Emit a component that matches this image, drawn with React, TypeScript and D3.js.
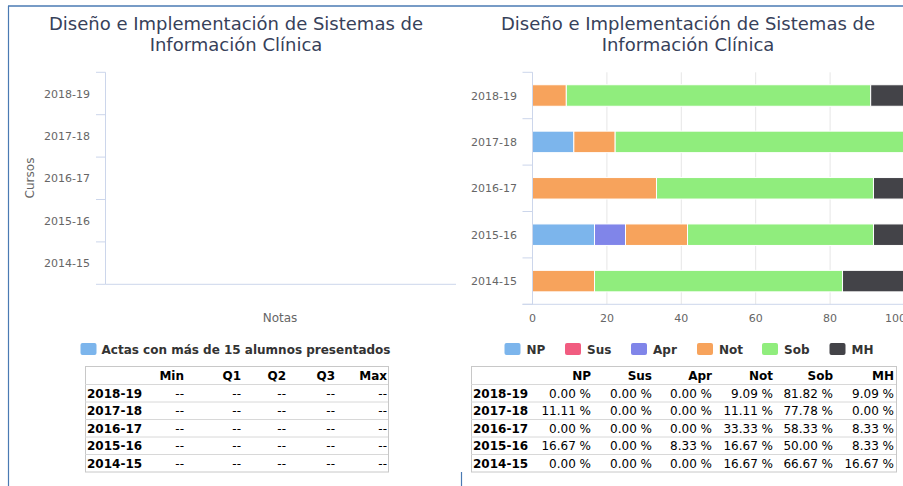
import React from "react";
import * as d3 from "d3";

const categories = ["2018-19", "2017-18", "2016-17", "2015-16", "2014-15"];
const seriesNames = ["NP", "Sus", "Apr", "Not", "Sob", "MH"];
const seriesColors = ["#7cb5ec", "#f15c80", "#8085e9", "#f7a35c", "#90ed7d", "#434348"];
const npValues = [0, 11.11, 0, 16.67, 0];
const susValues = [0, 0, 0, 0, 0];
const aprValues = [0, 0, 0, 8.33, 0];
const notValues = [9.09, 11.11, 33.33, 16.67, 16.67];
const sobValues = [81.82, 77.78, 58.33, 50.0, 66.67];
const mhValues = [9.09, 0, 8.33, 8.33, 16.67];
const seriesValues = [npValues, susValues, aprValues, notValues, sobValues, mhValues];
const xTicks = [0, 20, 40, 60, 80, 100];
const statHeaders = ["Min", "Q1", "Q2", "Q3", "Max"];
const statValues = categories.map(() => ["--", "--", "--", "--", "--"]);
const titleLines = ["Diseño e Implementación de Sistemas de", "Información Clínica"];
const leftLegend = "Actas con más de 15 alumnos presentados";

const FONT = "DejaVu Sans, sans-serif";
const AXIS = "#ccd6eb";
const LABEL = "#666666";
const TITLE = "#37415a";
const BORDER = "#4a7ab3";

function Title({ cx }: { cx: number }) {
  return (
    <g>
      {titleLines.map((t, i) => (
        <text key={i} x={cx} y={30 + i * 21} textAnchor="middle" fontSize={18} fill={TITLE} fontFamily={FONT}>
          {t}
        </text>
      ))}
    </g>
  );
}

function Table({ x0, x1, headers, colRight, rows }: { x0: number; x1: number; headers: string[]; colRight: number[]; rows: string[][] }) {
  const top = 366;
  const headH = 18;
  const rowH = 17.5;
  const bottom = top + headH + rowH * rows.length;
  return (
    <g fontFamily={FONT} fontSize={12}>
      <rect x={x0 + 0.5} y={top + 0.5} width={x1 - x0} height={bottom - top} fill="#fff" stroke="#c8c8c8" />
      {rows.map((_, i) => (
        <line key={i} x1={x0} x2={x1} y1={top + headH + i * rowH + 0.5} y2={top + headH + i * rowH + 0.5} stroke="#d8d8d8" />
      ))}
      {headers.map((h, j) => (
        <text key={h} x={colRight[j]} y={top + 14} textAnchor="end" fontWeight="bold" fill="#000">
          {h}
        </text>
      ))}
      {rows.map((r, i) => (
        <g key={i}>
          <text x={x0 + 2} y={top + headH + i * rowH + 13.5} fontWeight="bold" fill="#000">
            {categories[i]}
          </text>
          {r.map((v, j) => (
            <text key={j} x={colRight[j]} y={top + headH + i * rowH + 13.5} textAnchor="end" fill="#000">
              {v}
            </text>
          ))}
        </g>
      ))}
    </g>
  );
}

export default function App() {
  // Left chart
  const lTop = 72.3, lBottom = 284.3, lLeft = 105.5, lRight = 456;
  const yL = d3.scaleBand<string>().domain(categories).range([lTop, lBottom]);
  // Right chart
  const rTop = 72.3, rBottom = 304.3, rLeft = 532.5, rRight = 904.5;
  const yR = d3.scaleBand<string>().domain(categories).range([rTop, rBottom]);
  const xR = d3.scaleLinear().domain([0, 100]).range([rLeft, rRight]);
  const barH = 21.5;
  const chartRightEdge = 906;

  const stackData = categories.map((c, i) => {
    const o: any = { cat: c };
    seriesNames.forEach((s, k) => (o[s] = seriesValues[k][i]));
    return o;
  });
  const stacked = d3.stack<any>().keys(seriesNames)(stackData);

  const legendX = [504.5, 565, 631, 697, 762, 829.5];

  const pctRows = categories.map((_, i) => seriesValues.map((sv) => sv[i].toFixed(2) + " %"));

  return (
    <svg width={903} height={486} style={{ position: "absolute", left: 0, top: 0, background: "#fff" }} fontFamily={FONT}>
      {/* panel borders */}
      <line x1={8} x2={903} y1={6} y2={6} stroke={BORDER} strokeWidth={1.5} />
      <line x1={8.5} x2={8.5} y1={6} y2={486} stroke={BORDER} strokeWidth={1.2} />
      <line x1={461.5} x2={461.5} y1={472} y2={486} stroke={BORDER} strokeWidth={1.2} />

      {/* LEFT CHART */}
      <Title cx={236} />
      <line x1={lLeft} x2={lLeft} y1={lTop} y2={lBottom} stroke={AXIS} />
      <line x1={lLeft} x2={lRight} y1={lBottom} y2={lBottom} stroke={AXIS} />
      {[...categories.map((c) => yL(c)!), lBottom].map((y, i) => (
        <line key={i} x1={96} x2={lLeft} y1={y} y2={y} stroke={AXIS} />
      ))}
      {categories.map((c) => (
        <text key={c} x={90} y={yL(c)! + yL.bandwidth() / 2 + 4} textAnchor="end" fontSize={11} fill={LABEL}>
          {c}
        </text>
      ))}
      <text transform={`translate(34,178) rotate(-90)`} textAnchor="middle" fontSize={12} fill={LABEL}>
        Cursos
      </text>
      <text x={280} y={322} textAnchor="middle" fontSize={12} fill={LABEL}>
        Notas
      </text>
      <rect x={80.5} y={343} width={16} height={12} rx={2} fill="#7cb5ec" />
      <text x={101.5} y={353.5} fontSize={12} fontWeight="bold" fill="#333333">
        {leftLegend}
      </text>
      <Table x0={85} x1={388} headers={statHeaders} colRight={[184, 241, 286, 335, 387]} rows={statValues} />

      {/* RIGHT CHART */}
      <Title cx={688} />
      {xTicks.map((t) => (
        <line key={t} x1={xR(t)} x2={xR(t)} y1={rTop} y2={rBottom} stroke="#e6e6e6" />
      ))}
      {stacked.map((layer, k) => (
        <g key={layer.key}>
          {layer.map((d, i) =>
            d[1] - d[0] > 0 ? (
              <rect
                key={i}
                x={xR(d[0])}
                y={yR(categories[i])! + (yR.bandwidth() - barH) / 2}
                width={xR(d[1]) - xR(d[0])}
                height={barH}
                fill={seriesColors[k]}
                stroke="#ffffff"
                strokeWidth={1}
              />
            ) : null
          )}
        </g>
      ))}
      <line x1={rLeft} x2={rLeft} y1={rTop} y2={rBottom} stroke={AXIS} />
      <line x1={522.5} x2={903} y1={rBottom} y2={rBottom} stroke={AXIS} />
      {[...categories.map((c) => yR(c)!), rBottom].map((y, i) => (
        <line key={i} x1={522.5} x2={rLeft} y1={y} y2={y} stroke={AXIS} />
      ))}
      {categories.map((c) => (
        <text key={c} x={517} y={yR(c)! + yR.bandwidth() / 2 + 4} textAnchor="end" fontSize={11} fill={LABEL}>
          {c}
        </text>
      ))}
      {xTicks.map((t, i) => {
        const last = i === xTicks.length - 1;
        return (
          <text
            key={t}
            x={last ? chartRightEdge : xR(t)}
            y={322}
            textAnchor={last ? "end" : "middle"}
            fontSize={11}
            fill={LABEL}
          >
            {t}
          </text>
        );
      })}
      {seriesNames.map((s, k) => (
        <g key={s}>
          <rect x={legendX[k]} y={343} width={16} height={12} rx={2} fill={seriesColors[k]} />
          <text x={legendX[k] + 22} y={353.5} fontSize={12} fontWeight="bold" fill="#333333">
            {s}
          </text>
        </g>
      ))}
      <Table x0={471} x1={896} headers={seriesNames} colRight={[591, 652, 712, 773, 833, 894]} rows={pctRows} />
    </svg>
  );
}
